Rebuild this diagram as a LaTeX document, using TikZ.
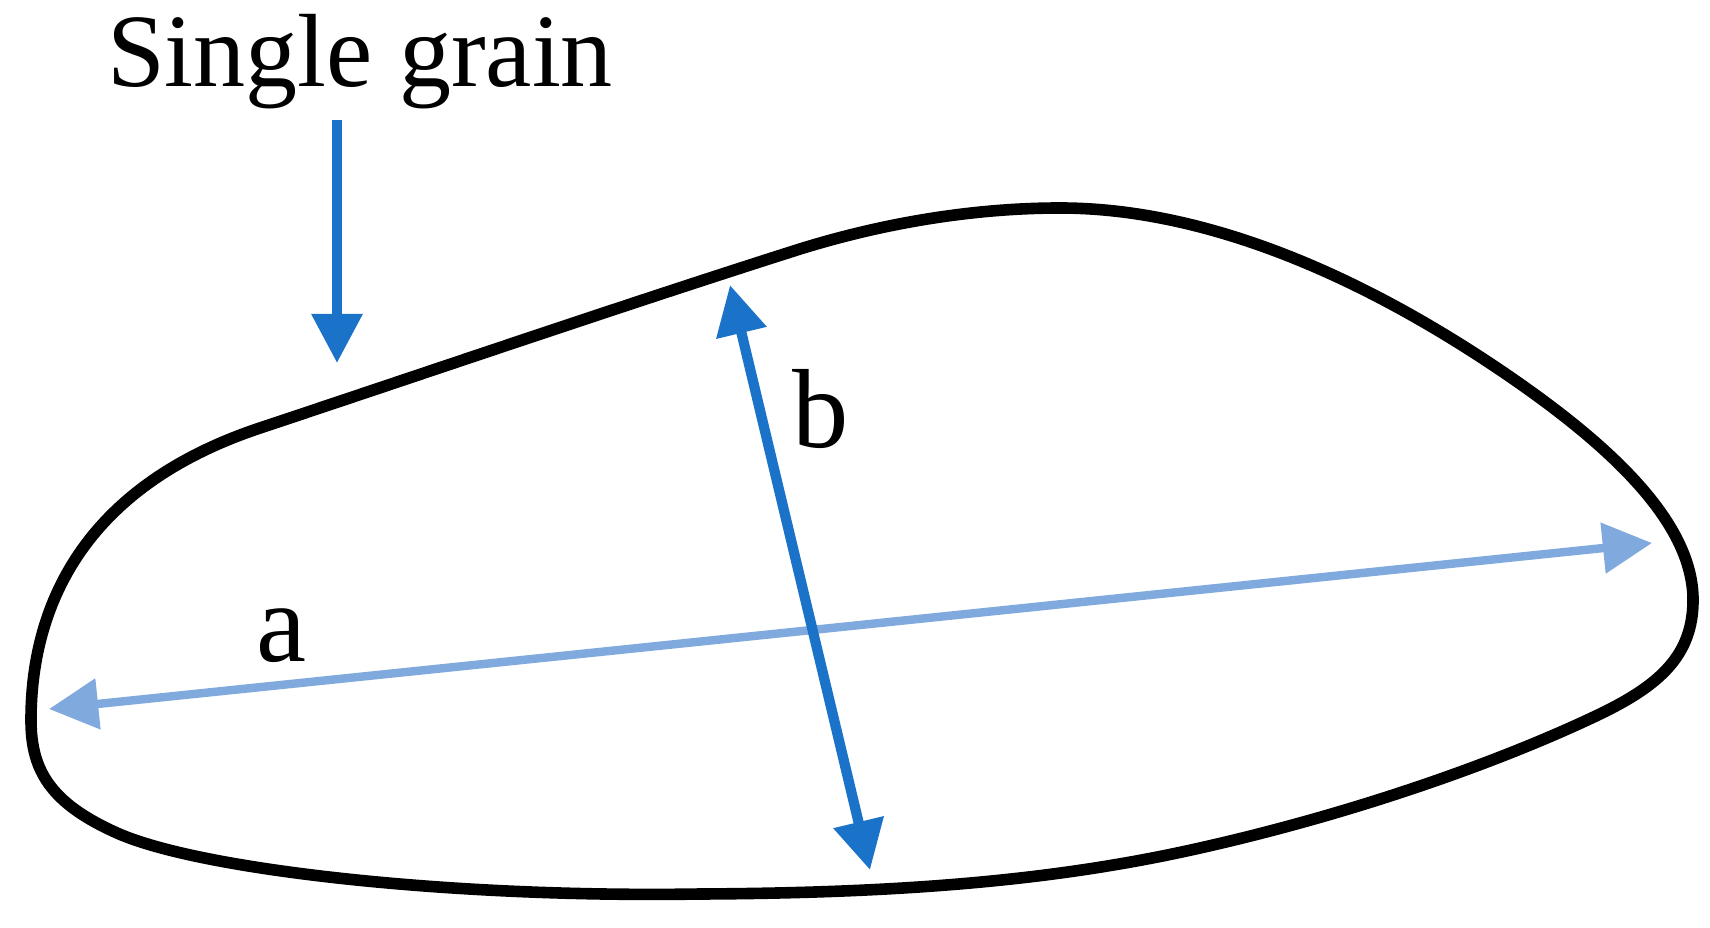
\documentclass[tikz,border=0pt]{standalone}
\usepackage{fontspec}
\setmainfont{Liberation Serif}
\usetikzlibrary{arrows.meta}
\definecolor{darkblue}{RGB}{26,114,201}
\definecolor{lightblue}{RGB}{128,170,222}
\tikzset{
  grainline/.style={line width=3.3pt, black, line join=round},
  pointer/.style={line width=2.7pt, darkblue, -{Triangle[length=14pt,width=14pt]}},
  dimb/.style={line width=2.9pt, darkblue, {Triangle[length=14pt,width=14pt]}-{Triangle[length=14pt,width=14pt]}},
  dima/.style={line width=2.4pt, lightblue, {Triangle[length=14pt,width=14pt]}-{Triangle[length=14pt,width=14pt]}},
  lbl/.style={font=\fontsize{32}{36}\selectfont, inner sep=0pt},
  title/.style={font=\fontsize{29.6}{34}\selectfont, inner sep=0pt}
}
\begin{document}
\begin{tikzpicture}[x=0.01cm, y=-0.01cm]
\useasboundingbox (0,0) rectangle (1710,928);
% grain outline
\draw[grainline] (31,720)
  .. controls (31,610) and (80,488) .. (260,428)
  .. controls (440,368) and (630,303) .. (800,249)
  .. controls (900,218) and (990,208) .. (1060,208)
  .. controls (1190,208) and (1340,262) .. (1500,370)
  .. controls (1605,441) and (1693,520) .. (1693,600)
  .. controls (1693,655) and (1660,685) .. (1600,714)
  .. controls (1500,762) and (1350,815) .. (1191,850)
  .. controls (1050,881) and (900,893) .. (700,894)
  .. controls (450,898) and (200,870) .. (117,833)
  .. controls (50,803) and (31,770) .. cycle;
% title and pointer
\node[title, anchor=base] (title) at (360,87) {Single grain};
\coordinate (ptop) at (337,120);
\coordinate (ptip) at (337,363);
\draw[pointer] (ptop) -- (ptip);
% dimension a
\coordinate (aleft) at (49,709);
\coordinate (aright) at (1652,543);
\draw[dima] (aleft) -- (aright);
\node[lbl] (la) at (281,636) {a};
% dimension b
\coordinate (btop) at (730,285);
\coordinate (bbot) at (870,870);
\draw[dimb] (btop) -- (bbot);
\node[lbl] (lb) at (821,409) {b};
\end{tikzpicture}
\end{document}
